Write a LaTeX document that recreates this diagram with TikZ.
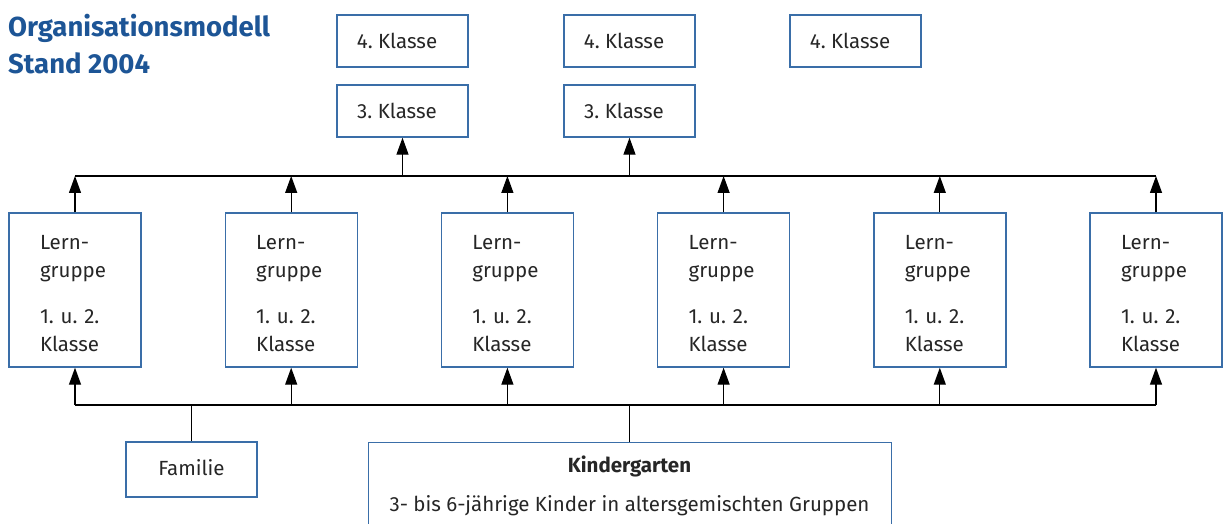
\documentclass[tikz,border=0pt]{standalone}
\usepackage{fontspec}
\setmainfont{Fira Sans}
\usetikzlibrary{arrows.meta}
\frenchspacing
\definecolor{boxblue}{HTML}{3A6EA8}
\definecolor{titleblue}{HTML}{1D5596}
\tikzset{
  txt/.style={font=\fontsize{20.5}{28}\selectfont\frenchspacing, text=black!85},
  box/.style={draw=boxblue, line width=1.4pt, rectangle, inner sep=0pt, txt},
  lgbox/.style={box, minimum width=132pt, minimum height=154pt},
  lgtext/.style={txt, inner sep=0pt, text width=70pt, align=left},
  kbox/.style={box, minimum width=131pt, minimum height=52pt},
  conn/.style={line width=1.3pt, black},
  arr/.style={conn, -{Triangle[length=17pt,width=12pt]}},
}
\newcommand{\ktext}[1]{#1\hspace*{11pt}}
\begin{document}
\begin{tikzpicture}[x=1pt,y=-1pt]
\useasboundingbox (0,0) rectangle (1227,524);
\clip (0,0) rectangle (1227,524);
\node[anchor=north west, align=left, inner sep=0pt, text=titleblue, font=\fontsize{27.5}{37}\selectfont\bfseries] (title) at (8,14) {Organisationsmodell\\Stand 2004};
\foreach \i in {0,...,5}{
  \node[lgbox] (L\i) at ({75+216.2*\i},290) {};
  \node[lgtext] (T\i) at ({75+216.2*\i},294) {Lern-\\gruppe\\[18pt]1. u. 2.\\Klasse};
}
\node[kbox] (K4a) at (402.5,41) {\ktext{4. Klasse}};
\node[kbox] (K3a) at (402.5,111) {\ktext{3. Klasse}};
\node[kbox] (K4b) at (629.5,41) {\ktext{4. Klasse}};
\node[kbox] (K3b) at (629.5,111) {\ktext{3. Klasse}};
\node[kbox] (K4c) at (855.5,41) {\ktext{4. Klasse}};
\node[box, minimum width=131pt, minimum height=55pt] (fam) at (191.5,469.5) {\raisebox{3pt}{Familie}};
\node[box, minimum width=523pt, minimum height=100pt, anchor=north west] (kg) at (368,442) {};
\node[txt, font=\fontsize{20.5}{28}\selectfont\bfseries, inner sep=0pt] (kgt) at (629.5,466) {Kindergarten};
\node[txt, inner sep=0pt] (kgs) at (629.5,506) {3- bis 6-jährige Kinder in altersgemischten Gruppen};
% buses
\coordinate (tbl) at (75,176);
\coordinate (tbr) at (1156,176);
\coordinate (bbl) at (75,405);
\coordinate (bbr) at (1156,405);
\draw[conn] (tbl) -- (tbr);
\draw[conn] (bbl) -- (bbr);
\foreach \i in {0,...,5}{
  \draw[arr] (L\i.north) -- (L\i.north |- tbl);
  \draw[arr] (L\i.south |- bbl) -- (L\i.south);
}
\draw[arr] (K3a.south |- tbl) -- (K3a.south);
\draw[arr] (K3b.south |- tbl) -- (K3b.south);
\draw[conn] (fam.north) -- (fam.north |- bbl);
\draw[conn] (kg.north -| kgt) -- (kgt |- bbl);
\end{tikzpicture}
\end{document}
